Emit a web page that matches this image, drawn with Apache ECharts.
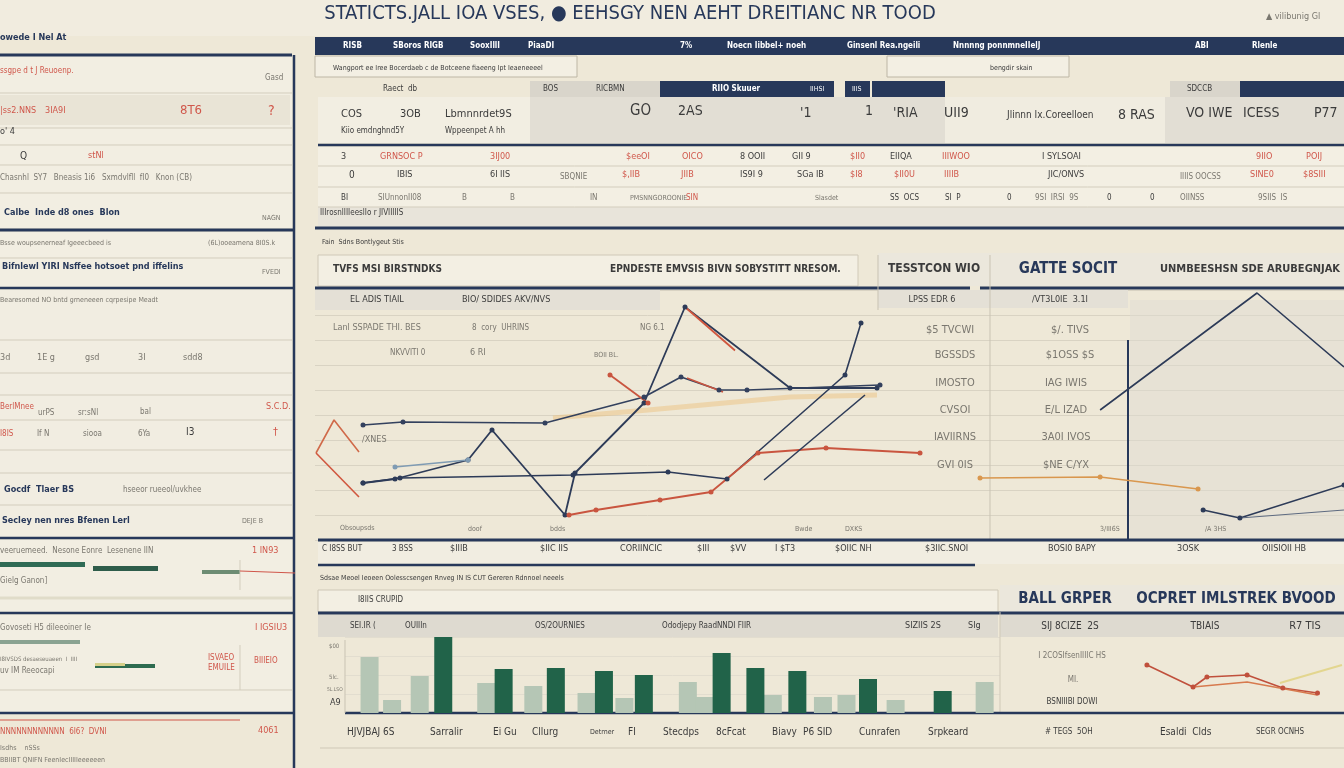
<!DOCTYPE html>
<html><head><meta charset="utf-8">
<script src="https://cdn.jsdelivr.net/npm/echarts@6/dist/echarts.min.js"></script>
<style>html,body{margin:0;padding:0;background:#eee8d7;}#c{width:1344px;height:768px;}</style>
</head><body><div id="c"></div>
<script>
// ---------- DATA ----------
// main line chart (x: period 0-133, y: index 0-100)
const lineA_x = [9.6,16,30.6,35.4,50,52,65.8,74,95,112.4];
const lineA_y = [22.8,24.4,32,44,10,26.8,54.8,93.2,60.8,60.8];
const lineB_x = [9.6,17.6,46,65.8,73.2,80.8,86.4,113];
const lineB_y = [46,47.2,46.8,57.2,65.2,60,60,62];
const lineC_x = [9.6,17,51.6,70.6,82.4,106,109.2];
const lineC_y = [22.8,24.8,26,27.2,24.4,66,86.8];
const lineD_x = [50.8,56.2,69,79.2,88.6,102.2,121];
const lineD_y = [10,12,16,19.2,34.8,36.8,34.8];
const lineE_x = [89.8,110];
const lineE_y = [24,58];
const lineF_x = [0.2,3.8,8.8];
const lineF_y = [34.8,48,35.2];
const lineG_x = [0.2,8.8];
const lineG_y = [34.8,17.2];
const lineH_x = [74,84];
const lineH_y = [93.2,75.8];
const lineI1_x = [59,66.6];
const lineI1_y = [66,54.8];
const lineI2_x = [74.4,81.6];
const lineI2_y = [64.8,59.2];
const lineL_x = [16,30.6];
const lineL_y = [29.2,32];
const bandJ_x = [47.6,66.6,95,112.4];
const bandJ_y = [48.8,52,57.2,58];
// right line chart
const triK_x = [33,76.1,100];
const triK_y = [52,98.8,69.2];
const orgL_x = [0,33,59.9];
const orgL_y = [24.8,25.2,20.4];
const navM_x = [61.3,71.4,100];
const navM_y = [12,8.8,22];
const navN_x = [71.4,100];
const navN_y = [8.8,12];
// bar chart
const darkBar_x = [9.6,15.5,20.6,25.3,29.2,36.8,40.1,44.2,51.1,58.4];
const darkBar_v = [76,44,45,42,38,60,45,42,34,22];
const lightBar_x = [2.4,4.6,7.3,13.8,18.4,23.6,27.3,33.5,35.1,41.8,46.7,49,53.8,62.5];
const lightBar_v = [56,13,37,30,27,20,15,31,16,18,16,18,13,31];
// small red chart
const redR1_x = [3.4,26,32.8,52.5,70,87];
const redR1_y = [35,13,23,25,12,7];
const redR2_x = [26,52.5,87];
const redR2_y = [13,18,5];
const yelY_x = [68.6,99];
const yelY_y = [17,35];

const zip = (a,b)=>a.map((v,i)=>[v,b[i]]);

// ---------- STYLE ----------
const FONT = '"DejaVu Sans Condensed","Liberation Sans Narrow","Roboto Condensed",sans-serif';
const NAVY='#27385a', RED='#d0574b', GRAY='#7a776f', DARK='#3b3b3b', LINE='#d3cdbd';

function T(x,y,s,size,color,weight,align){
  return {type:'text',silent:true,z:5,style:{x:x,y:y,text:s,fill:color||GRAY,
    font:(weight||'normal')+' '+(size||9)+'px '+FONT,textAlign:align||'left',textVerticalAlign:'middle'}};
}
function R(x,y,w,h,fill,stroke,lw){
  return {type:'rect',silent:true,z:1,shape:{x:x,y:y,width:w,height:h},style:{fill:fill||'none',stroke:stroke||null,lineWidth:lw||1}};
}
function L(x1,y1,x2,y2,c,w){
  return {type:'line',silent:true,z:2,shape:{x1:x1,y1:y1,x2:x2,y2:y2},style:{stroke:c||LINE,lineWidth:w||1}};
}

const deco = [];
deco.push(R(0,0,1344,36,'#f1ecdf'));
// ----- left panel -----
deco.push(R(0,56,292,172,'#f2eee2'));
[93,128,145,165,193].forEach(y=>deco.push(L(0,y,292,y)));
deco.push(R(0,95,290,30,'#e9e4d6'));
deco.push(L(0,55,292,55,NAVY,3));
deco.push(L(0,230,295,230,NAVY,3));
deco.push(R(0,232,292,55,'#f2eee2'));
deco.push(L(0,258,292,258));
deco.push(L(0,288,295,288,NAVY,2.5));
deco.push(R(0,290,292,247,'#f1ede1'));
[340,373,395,420,450,473,505].forEach(y=>deco.push(L(0,y,292,y)));
deco.push(L(0,538,295,538,NAVY,2.5));
deco.push(R(0,540,292,72,'#f2eee2'));
deco.push(L(0,613,295,613,NAVY,2.5));
deco.push(R(0,615,292,97,'#f2eee2'));
deco.push(L(0,690,292,690));
deco.push(L(240,645,240,690));
deco.push(L(240,590,240,560));
deco.push(L(0,713,295,713,NAVY,2.5));
deco.push(L(294,55,294,768,NAVY,2.5));
deco.push(R(0,562,85,5,'#2f6b55'),R(93,566,65,5,'#2e5c4a'),R(202,570,38,4,'#6d8c73'),L(240,571,295,573,RED,1.2));
deco.push(R(0,640,80,4,'#8aa391'),R(95,664,60,4,'#2e6b50'),R(95,663,30,3,'#d6d08a'));
deco.push(L(0,598,292,598,'#e0dcc9',3));
deco.push(L(0,720,240,720,RED,1.2));

// ----- top main table -----
deco.push(R(315,37,1029,18,NAVY));
deco.push(R(315,56,262,21,'#f3efe3','#bdb6a5'));
deco.push(R(887,56,182,21,'#f3efe3','#bdb6a5'));
deco.push(R(530,81,130,16,'#d9d5cb'),R(660,81,112,16,NAVY),R(772,81,62,16,NAVY),R(845,81,25,16,NAVY),R(872,81,73,16,NAVY),R(1170,81,70,16,'#d9d5cb'),R(1240,81,104,16,NAVY));
deco.push(R(318,97,212,46,'#f2eee2'),R(530,97,415,46,'#e2ded4'),R(945,97,225,46,'#f0ece0'),R(1165,97,179,46,'#e2ded4'));
deco.push(L(318,145,1344,145,NAVY,2.5));
deco.push(R(318,147,1026,80,'#f3efe3'));
[166,187,207].forEach(y=>deco.push(L(318,y,1344,y)));
deco.push(R(318,207,1026,20,'#e8e4da'));
deco.push(L(315,228,1344,228,NAVY,3));

// ----- middle section -----
deco.push(R(318,255,540,31,'#f3efe3','#d0c9b8'));
deco.push(R(878,253,112,33,'#ebe7dc'),R(990,253,140,33,'#ebe7dc'),R(1130,253,214,33,'#ebe7dc'));
deco.push(L(315,288,970,288,NAVY,3),L(980,288,1344,288,NAVY,3));
deco.push(R(315,290,345,20,'#e4e0d6'));
deco.push(R(878,290,112,18,'#e4e0d6'),R(990,290,138,18,'#e4e0d6'));
deco.push(L(990,255,990,540,'#c9c3b3',1),L(878,255,878,310,'#c9c3b3',1));
deco.push(R(1130,300,214,238,'rgba(222,219,210,0.45)'));
deco.push(L(1128,340,1128,540,NAVY,2));

// ----- bottom section -----
deco.push(L(318,540,1344,540,NAVY,3));
deco.push(R(318,542,1026,22,'#f1ede1'));
deco.push(L(318,565,975,565,NAVY,2.5));
deco.push(R(318,590,680,22,'#f3efe3','#cfc8b7'));
deco.push(R(1000,585,130,27,'#ebe7dc'),R(1130,585,214,27,'#ebe7dc'));
deco.push(L(318,613,1344,613,NAVY,3));
deco.push(R(318,615,680,22,'#dedad0'),R(1000,615,130,22,'#dedad0'),R(1130,615,214,22,'#dedad0'));
deco.push(L(1000,612,1000,713,'#d0c9b8'));
deco.push(L(345,713,1344,713,NAVY,2.5));
deco.push(L(320,748,1344,748,'#cfc8b7'));
deco.push(L(345,640,345,713,'#c9c3b3'));

// ----- texts -----
const texts = [
 T(630,14,'STATICTS.JALL IOA VSES, ● EEHSGY NEN AEHT DREITIANC NR TOOD',20,NAVY,'normal','center'),
 T(1266,17,'▲ vilibunig Gl',9,GRAY),
 T(0,38,'owede I Nel At',9,NAVY,'bold'),
 T(0,71,'ssgpe d t J Reuoenp.',8,RED),
 T(265,78,'Gasd',8,GRAY),
 T(0,111,'|ss2.NNS',9,RED),T(45,111,'3IA9I',9,RED),T(180,111,'8T6',13,RED),T(268,111,'?',14,RED),
 T(0,132,'o\' 4',9,DARK),
 T(20,156,'Q',10,DARK),T(88,156,'stNl',9,RED),
 T(0,178,'Chasnhl  SY7   Bneasis 1i6   Sxmdvlfll  fI0   Knon (CB)',8,GRAY),
 T(4,213,'Calbe  Inde d8 ones  Blon',9,NAVY,'bold'),T(262,218,'NAGN',7,GRAY),
 T(0,243,'Bsse woupsenerneaf Igeeecbeed is',7,GRAY),T(208,243,'(6L)ooeamena 8I0S.k',7,GRAY),
 T(2,267,'Bifnlewl YIRI Nsffee hotsoet pnd iffelins',9,NAVY,'bold'),T(262,272,'FVEDI',7,GRAY),
 T(0,300,'Bearesomed NO bntd grneneeen cqrpesipe Meadt',7,GRAY),
 T(0,358,'3d',9,GRAY),T(37,358,'1E g',9,GRAY),T(85,358,'gsd',9,GRAY),T(138,358,'3I',9,GRAY),T(183,358,'sdd8',9,GRAY),
 T(0,407,'BerlMnee',8,RED),T(38,413,'urPS',8,GRAY),T(78,413,'sr:sNl',8,GRAY),T(140,412,'bal',8,GRAY),T(266,407,'S.C.D.',9,RED),
 T(0,434,'I8IS',8,RED),T(37,434,'If N',8,GRAY),T(83,434,'siooa',8,GRAY),T(138,434,'6Ya',8,GRAY),T(186,432,'I3',10,DARK),T(273,432,'†',11,RED),
 T(4,490,'Gocdf  Tlaer BS',9,NAVY,'bold'),T(123,490,'hseeor rueeol/uvkhee',8,GRAY),
 T(2,521,'Secley nen nres Bfenen Lerl',9,NAVY,'bold'),T(242,521,'DEJE B',7,GRAY),
 T(0,551,'veeruemeed.  Nesone Eonre  Lesenene IIN',8,GRAY),T(252,551,'1 IN93',9,RED),
 T(0,581,'Gielg Ganon]',8,GRAY),
 T(0,628,'Govoseti H5 dileeoiner Ie',8,GRAY),T(255,628,'I IGSIU3',9,RED),
 T(0,659,'I8IVSDS desaeseuaeen  I  IIII',6,GRAY),T(0,671,'uv IM Reeocapi',8,GRAY),
 T(208,658,'ISVAEO',8,RED),T(208,668,'EMUILE',8,RED),T(254,661,'BIIIEIO',8,RED),
 T(0,732,'NNNNNNNNNNNN  6I6?  DVNI',8,RED),T(258,731,'4061',9,RED),
 T(0,748,'Isdhs    nSSs',7,GRAY),T(0,760,'BBIIBT QNIFN FeenIecIIIIIeeeeeen',7,GRAY),
 T(343,46,'RISB',8,'#ffffff','bold'),T(393,46,'SBoros RIGB',8,'#ffffff','bold'),T(470,46,'SooxIllI',8,'#ffffff','bold'),T(528,46,'PiaaDI',8,'#ffffff','bold'),
 T(680,46,'7%',8,'#ffffff','bold'),T(727,46,'Noecn Iibbel+ noeh',8,'#ffffff','bold'),T(847,46,'Ginsenl Rea.ngeili',8,'#ffffff','bold'),
 T(953,46,'Nnnnng ponnmneIIelJ',8,'#ffffff','bold'),T(1195,46,'ABI',8,'#ffffff','bold'),T(1252,46,'Rlenle',8,'#ffffff','bold'),
 T(333,68,'Wangport ee Iree Bocerdaeb c de Botceene fiaeeng Ipt Ieaeneeeel',7,DARK),
 T(990,68,'bengdir skain',7,DARK),
 T(383,89,'Raect  db',8,DARK),T(543,89,'BOS',8,DARK),T(596,89,'RICBMN',8,DARK),
 T(712,89,'RIIO Skuuer',8,'#ffffff','bold'),T(810,89,'IIHSI',7,'#ffffff'),T(852,89,'IIIS',7,'#ffffff'),T(1187,89,'SDCCB',8,DARK),
 T(341,114,'COS',11,DARK),T(400,114,'3OB',11,DARK),T(445,114,'Lbmnnrdet9S',11,DARK),
 T(341,131,'Kiio emdnghnd5Y',8,DARK),T(445,131,'Wppeenpet A hh',8,DARK),
 T(630,111,'GO',15,DARK),T(678,111,'2AS',14,DARK),T(800,113,'\'1',14,DARK),T(865,111,'1',14,DARK),T(893,113,'\'RIA',14,DARK),T(944,113,'UII9',14,DARK),
 T(1007,115,'Jlinnn Ix.Coreelloen',10,DARK),T(1118,115,'8 RAS',14,DARK),T(1186,113,'VO IWE',14,DARK),T(1243,113,'ICESS',14,DARK),T(1314,113,'P77',14,DARK),
 T(341,157,'3',9,DARK),T(380,157,'GRNSOC P',9,RED),T(490,157,'3IJ00',9,RED),T(626,157,'$eeOI',9,RED),T(682,157,'OICO',9,RED),T(740,157,'8 OOII',9,DARK),
 T(792,157,'GII 9',9,DARK),T(850,157,'$II0',9,RED),T(890,157,'EIIQA',9,DARK),T(942,157,'IIIWOO',9,RED),T(1042,157,'I SYLSOAI',9,DARK),T(1256,157,'9IIO',9,RED),T(1306,157,'POIJ',9,RED),
 T(349,175,'0',10,DARK),T(397,175,'IBIS',9,DARK),T(490,175,'6I IIS',9,DARK),T(560,177,'SBQNIE',8,GRAY),T(622,175,'$,IIB',9,RED),T(681,175,'JIIB',9,RED),
 T(740,175,'IS9I 9',9,DARK),T(797,175,'SGa IB',9,DARK),T(850,175,'$I8',9,RED),T(894,175,'$II0U',9,RED),T(944,175,'IIIIB',9,RED),T(1048,175,'JIC/ONVS',9,DARK),
 T(1180,177,'IIIIS OOCSS',8,GRAY),T(1250,175,'SINE0',9,RED),T(1303,175,'$8SIII',9,RED),
 T(341,198,'BI',8,DARK),T(378,198,'SIUnnonII08',8,GRAY),T(462,198,'B',8,GRAY),T(510,198,'B',8,GRAY),T(590,198,'IN',8,GRAY),T(630,198,'PMSNNGOROONIE',7,GRAY),T(686,198,'SIN',8,RED),
 T(815,198,'Slasdet',7,GRAY),T(890,198,'SS  OCS',8,DARK),T(945,198,'SI  P',8,DARK),T(1007,198,'0',8,DARK),T(1035,198,'9SI  IRSI  9S',8,GRAY),
 T(1107,198,'0',8,DARK),T(1150,198,'0',8,DARK),T(1180,198,'OIINSS',8,GRAY),T(1258,198,'9SIIS  IS',8,GRAY),
 T(320,213,'IIIrosnlIIIeeslIo r JIVIIIIIS',8,DARK),
 T(322,242,'Fain  Sdns Bontlygeut Stis',7,DARK),
 T(333,269,'TVFS MSI BIRSTNDKS',10,DARK,'bold'),T(610,269,'EPNDESTE EMVSIS BIVN SOBYSTITT NRESOM.',10,DARK,'bold'),
 T(934,269,'TESSTCON WIO',12,DARK,'bold','center'),T(1068,269,'GATTE SOCIT',15,NAVY,'bold','center'),T(1250,269,'UNMBEESHSN SDE ARUBEGNJAK',11,DARK,'bold','center'),
 T(350,300,'EL ADIS TIAIL',9,DARK),T(462,300,'BIO/ SDIDES AKV/NVS',9,DARK),
 T(932,300,'LPSS EDR 6',9,DARK,'normal','center'),T(1060,300,'/VT3L0IE  3.1I',9,DARK,'normal','center'),
 T(333,328,'Lanl SSPADE THI. BES',9,GRAY),T(472,328,'8  cory  UHRINS',8,GRAY),T(640,328,'NG 6.1',8,GRAY),
 T(390,353,'NKVVITI 0',8,GRAY),T(470,353,'6 RI',9,GRAY),T(594,355,'BOII BL.',7,GRAY),T(362,440,'/XNES',9,GRAY),
 T(950,330,'$5 TVCWI',11,GRAY,'normal','center'),T(1070,330,'$/. TIVS',11,GRAY,'normal','center'),
 T(955,355,'BGSSDS',11,GRAY,'normal','center'),T(1070,355,'$1OSS $S',11,GRAY,'normal','center'),
 T(955,383,'IMOSTO',11,GRAY,'normal','center'),T(1066,383,'IAG IWIS',11,GRAY,'normal','center'),
 T(955,410,'CVSOI',11,GRAY,'normal','center'),T(1066,410,'E/L IZAD',11,GRAY,'normal','center'),
 T(955,437,'IAVIIRNS',11,GRAY,'normal','center'),T(1066,437,'3A0I IVOS',11,GRAY,'normal','center'),
 T(955,465,'GVI 0IS',11,GRAY,'normal','center'),T(1066,465,'$NE C/YX',11,GRAY,'normal','center'),
 T(340,528,'Obsoupsds',7,GRAY),T(468,529,'doof',7,GRAY),T(550,529,'bdds',7,GRAY),T(795,529,'Bwde',7,GRAY),T(845,529,'DXKS',7,GRAY),
 T(1100,529,'3/III6S',7,GRAY),T(1205,529,'/A 3HS',7,GRAY),
 T(322,549,'C I8SS BUT',8,DARK),T(392,549,'3 BSS',8,DARK),T(450,549,'$IIIB',9,DARK),T(540,549,'$IIC IIS',9,DARK),T(620,549,'CORIINCIC',9,DARK),
 T(697,549,'$III',9,DARK),T(730,549,'$VV',9,DARK),T(775,549,'I $T3',9,DARK),T(835,549,'$OIIC NH',9,DARK),T(925,549,'$3IIC.SNOI',9,DARK),
 T(1048,549,'BOSI0 BAPY',9,DARK),T(1177,549,'3OSK',9,DARK),T(1262,549,'OIISIOII HB',9,DARK),
 T(320,578,'Sdsae Meoel Ieoeen Oolesscsengen Rnveg IN IS CUT Gereren Rdnnoel neeels',7,DARK),
 T(358,600,'I8IIS CRUPID',8,DARK),
 T(1065,599,'BALL GRPER',15,NAVY,'bold','center'),T(1236,599,'OCPRET IMLSTREK BVOOD',15,NAVY,'bold','center'),
 T(350,626,'SEI.IR (',8,DARK),T(405,626,'OUIIIn',8,DARK),T(535,626,'OS/2OURNIES',8,DARK),T(662,626,'Ododjepy RaadNNDI FIIR',8,DARK),
 T(905,626,'SIZIIS 2S',9,DARK),T(968,626,'SIg',9,DARK),T(1070,626,'SIJ 8CIZE  2S',10,DARK,'normal','center'),T(1205,626,'TBIAIS',10,DARK,'normal','center'),T(1305,626,'R7 TIS',11,DARK,'normal','center'),
 T(1072,656,'I 2COSIfsenIIIIC HS',8,GRAY,'normal','center'),T(1073,680,'MI.',8,GRAY,'normal','center'),T(1072,702,'BSNIIIBI DOWI',8,DARK,'normal','center'),
 T(329,646,'$00',6,GRAY),T(329,677,'5lc.',6,GRAY),T(327,690,'5L.LSO',5,GRAY),T(330,703,'A9',9,DARK),
 T(347,732,'HJVJBAJ 6S',10,DARK),T(430,732,'Sarralir',10,DARK),T(493,732,'Ei Gu',10,DARK),T(532,732,'Cllurg',10,DARK),
 T(590,732,'Detrner',7,DARK),T(628,732,'FI',10,DARK),T(663,732,'Stecdps',10,DARK),T(716,732,'8cFcat',10,DARK),
 T(772,732,'Biavy',10,DARK),T(803,732,'P6 SID',10,DARK),T(859,732,'Cunrafen',10,DARK),T(928,732,'Srpkeard',10,DARK),
 T(1045,732,'# TEGS  5OH',8,DARK),T(1160,732,'Esaldi  Clds',10,DARK),T(1256,732,'SEGR OCNHS',8,DARK)
];

const chart = echarts.init(document.getElementById('c'),null,{renderer:'canvas'});
const hiddenX = (min,max,gi)=>({type:'value',min:min,max:max,gridIndex:gi,show:false});
function ser(name,xs,ys,color,width,gi,sym,opts){
  return Object.assign({type:'line',name:name,xAxisIndex:gi,yAxisIndex:gi,data:zip(xs,ys),
    symbol:sym||'none',symbolSize:5,showSymbol:!!sym,silent:true,animation:false,z:4,
    lineStyle:{color:color,width:width},itemStyle:{color:color}},opts||{});
}
const option = {
  backgroundColor:'#eee8d7',
  animation:false,
  grid:[
    {left:315,top:290,width:665,height:250},
    {left:980,top:290,width:364,height:250},
    {left:345,top:637,width:655,height:76},
    {left:1140,top:655,width:204,height:45}
  ],
  xAxis:[hiddenX(0,133,0),hiddenX(0,100,1),hiddenX(0,64,2),hiddenX(0,100,3)],
  yAxis:[
    {type:'value',gridIndex:0,min:0,max:100,interval:10,axisLine:{show:false},axisTick:{show:false},axisLabel:{show:false},splitLine:{lineStyle:{color:'#d9d3c3'}}},
    {type:'value',gridIndex:1,min:0,max:100,interval:10,axisLine:{show:false},axisTick:{show:false},axisLabel:{show:false},splitLine:{lineStyle:{color:'#d9d3c3'}}},
    {type:'value',gridIndex:2,min:0,max:76,interval:19,axisLine:{show:false},axisTick:{show:false},axisLabel:{show:false},splitLine:{lineStyle:{color:'#e2ddcf'}}},
    {type:'value',gridIndex:3,min:0,max:45,show:false}
  ],
  graphic:{elements:deco.concat(texts)},
  series:[
    ser('band',bandJ_x,bandJ_y,'rgba(236,190,120,0.45)',5,0),
    ser('A',lineA_x,lineA_y,'#2d3b58',1.8,0,'circle'),
    ser('B',lineB_x,lineB_y,'#33415e',1.6,0,'circle'),
    ser('C',lineC_x,lineC_y,'#2d3b58',1.6,0,'circle'),
    ser('D',lineD_x,lineD_y,'#c9553f',1.8,0,'circle'),
    ser('E',lineE_x,lineE_y,'#2d3b58',1.6,0),
    ser('F',lineF_x,lineF_y,'#d06a4a',1.6,0),
    ser('G',lineG_x,lineG_y,'#d0573f',1.6,0),
    ser('H',lineH_x,lineH_y,'#d0573f',1.8,0),
    ser('I1',lineI1_x,lineI1_y,'#c9553f',1.8,0,'circle'),
    ser('I2',lineI2_x,lineI2_y,'#c9553f',1.6,0),
    ser('L',lineL_x,lineL_y,'#7f9bb3',1.6,0,'circle'),
    ser('K',triK_x,triK_y,'#2d3b58',1.6,1),
    ser('Lo',orgL_x,orgL_y,'#d9974e',1.6,1,'circle'),
    ser('M',navM_x,navM_y,'#2d3b58',1.6,1,'circle'),
    ser('N',navN_x,navN_y,'#5d6a80',1.2,1),
    {type:'bar',name:'light',xAxisIndex:2,yAxisIndex:2,data:zip(lightBar_x,lightBar_v),barWidth:18,barGap:'-100%',silent:true,z:3,
      itemStyle:{color:'#b5c6b5'}},
    {type:'bar',name:'dark',xAxisIndex:2,yAxisIndex:2,data:zip(darkBar_x,darkBar_v),barWidth:18,barGap:'-100%',silent:true,z:4,
      itemStyle:{color:'#216349'}},
    ser('R1',redR1_x,redR1_y,'#c0503c',1.6,3,'circle'),
    ser('R2',redR2_x,redR2_y,'#d77a4e',1.4,3),
    ser('Y1',yelY_x,yelY_y,'#e3d68f',2,3)
  ]
};
chart.setOption(option);
</script>
</body></html>
